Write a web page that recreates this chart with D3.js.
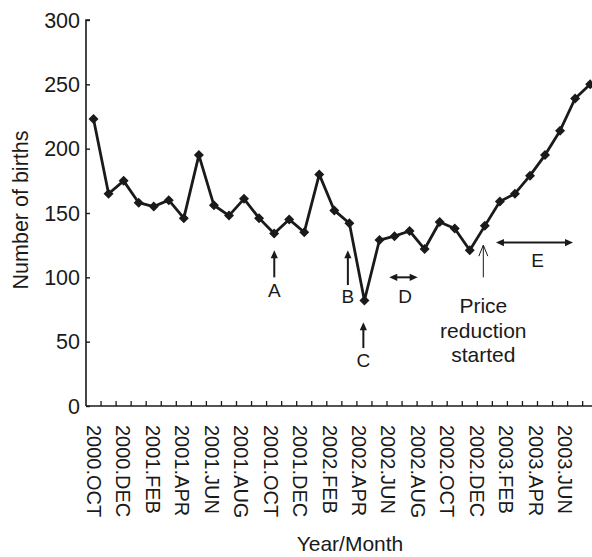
<!DOCTYPE html>
<html>
<head>
<meta charset="utf-8">
<script src="https://cdn.jsdelivr.net/npm/d3@7"></script>
<style>
  body { margin: 0; background: #fff; }
  svg { display: block; }
  text { font-family: "Liberation Sans", Arial, sans-serif; fill: #1a1a1a; }
</style>
</head>
<body>
<svg id="chart" width="592" height="557"></svg>
<script>
// Monthly births, 2000.OCT .. 2003.JUL
const months = [
  "2000.OCT","2000.NOV","2000.DEC",
  "2001.JAN","2001.FEB","2001.MAR","2001.APR","2001.MAY","2001.JUN",
  "2001.JUL","2001.AUG","2001.SEP","2001.OCT","2001.NOV","2001.DEC",
  "2002.JAN","2002.FEB","2002.MAR","2002.APR","2002.MAY","2002.JUN",
  "2002.JUL","2002.AUG","2002.SEP","2002.OCT","2002.NOV","2002.DEC",
  "2003.JAN","2003.FEB","2003.MAR","2003.APR","2003.MAY","2003.JUN","2003.JUL"
];
const births = [
  223, 165, 175,
  158, 155, 160, 146, 195, 156,
  148, 161, 146, 134, 145, 135,
  180, 152, 142, 82, 129, 132,
  136, 122, 143, 138, 121, 140,
  159, 165, 179, 195, 214, 239, 250
];
const yTicks = [0, 50, 100, 150, 200, 250, 300];
// every second month gets a label
const tickLabels = months.filter((m, i) => i % 2 === 0);

// annotations: month index (fractional) and values in births units
const upArrows = [
  { label: "A", at: 12.51, from: 100, to: 121, textAt: 90 },
  { label: "B", at: 17.40, from: 94,  to: 121, textAt: 85 },
  { label: "C", at: 18.43, from: 45,  to: 65,  textAt: 36 }
];
const spanArrows = [
  { label: "D", from: 20.15, to: 22.04, at: 100, textX: 21.2, textAt: 85 },
  { label: "E", from: 27.24, to: 32.36, at: 127, textX: 30.0, textAt: 113.5 }
];
const priceNote = { at: 26.4, from: 100, to: 125, lines: ["Price", "reduction", "started"], textAt: [78.5, 59, 40.4] };

const svg = d3.select("#chart");
const mLeft = 86, step = 15.05, mTop = 20, mBottom = 406;

const x = d3.scaleBand().domain(months).range([mLeft, mLeft + months.length * step]);
const xi = d3.scaleLinear().domain([0, months.length]).range([mLeft, mLeft + months.length * step]);
// category labels are spaced a touch tighter than the points in the original
const xl = d3.scalePoint().domain(tickLabels).range([94, 565]);
const y = d3.scaleLinear().domain([0, 300]).range([mBottom, mTop]);

const ink = "#1a1a1a";

// y axis, ticks inside
const yAxis = svg.append("g").attr("transform", `translate(${mLeft},0)`)
  .call(d3.axisRight(y).tickValues(yTicks).tickSize(4).tickFormat(""));
yAxis.select(".domain").attr("stroke", ink).attr("stroke-width", 1.6).attr("d", `M4,${mTop}H0V${mBottom}`);
yAxis.selectAll(".tick line").attr("stroke", ink).attr("stroke-width", 1.4);

svg.append("g").selectAll("text").data(yTicks).join("text")
  .attr("x", mLeft - 6).attr("y", d => y(d)).attr("dy", "0.36em")
  .attr("text-anchor", "end").attr("font-size", 21.5)
  .text(d => d);

// x axis: ticks at month boundaries, pointing up
const xAxis = svg.append("g").attr("transform", `translate(0,${mBottom})`)
  .call(d3.axisTop(x).tickSize(0).tickFormat(""));
xAxis.select(".domain").attr("stroke", ink).attr("stroke-width", 1.6).attr("d", `M${mLeft},0H${mLeft + months.length * step}`);
svg.append("g").selectAll("line").data(d3.range(1, months.length)).join("line")
  .attr("x1", d => xi(d)).attr("x2", d => xi(d))
  .attr("y1", mBottom).attr("y2", mBottom - 5)
  .attr("stroke", ink).attr("stroke-width", 1.3);

svg.append("g").selectAll("text").data(tickLabels).join("text")
  .attr("transform", d => `translate(${xl(d)},${mBottom + 19}) rotate(90)`)
  .attr("dy", "0.35em").attr("font-size", 20)
  .text(d => d);

// axis titles
svg.append("text")
  .attr("transform", `translate(20,${(mTop + mBottom) / 2 - 3}) rotate(-90)`)
  .attr("text-anchor", "middle").attr("dy", "0.35em").attr("font-size", 21.5)
  .text("Number of births");
svg.append("text")
  .attr("x", 350).attr("y", 551)
  .attr("text-anchor", "middle").attr("font-size", 21)
  .text("Year/Month");

// series
const cx = (d, i) => x(months[i]) + x.bandwidth() / 2;
svg.append("path")
  .datum(births)
  .attr("fill", "none").attr("stroke", ink).attr("stroke-width", 2.8).attr("stroke-linejoin", "round")
  .attr("d", d3.line().x(cx).y(d => y(d)));

svg.append("g").selectAll("path").data(births).join("path")
  .attr("transform", (d, i) => `translate(${cx(d, i)},${y(d)})`)
  .attr("d", "M0,-5L5,0L0,5L-5,0Z")
  .attr("fill", ink);

// annotation helpers
function head(px, py, dir) {
  // filled triangular head pointing in dir (angle in degrees)
  return svg.append("path")
    .attr("d", "M0,0L-8,-3.6L-8,3.6Z")
    .attr("transform", `translate(${px},${py}) rotate(${dir})`)
    .attr("fill", ink);
}

const ann = svg.append("g");
upArrows.forEach(a => {
  const px = xi(a.at);
  ann.append("line").attr("x1", px).attr("x2", px)
    .attr("y1", y(a.from)).attr("y2", y(a.to) + 6)
    .attr("stroke", ink).attr("stroke-width", 2);
  head(px, y(a.to), -90);
  ann.append("text").attr("x", px).attr("y", y(a.textAt)).attr("dy", "0.36em")
    .attr("text-anchor", "middle").attr("font-size", 19).text(a.label);
});

spanArrows.forEach(s => {
  const x1 = xi(s.from), x2 = xi(s.to), py = y(s.at);
  ann.append("line").attr("x1", x1 + 6).attr("x2", x2 - 6)
    .attr("y1", py).attr("y2", py)
    .attr("stroke", ink).attr("stroke-width", 2);
  head(x1, py, 180);
  head(x2, py, 0);
  ann.append("text").attr("x", xi(s.textX)).attr("y", y(s.textAt)).attr("dy", "0.36em")
    .attr("text-anchor", "middle").attr("font-size", 19).text(s.label);
});

// thin open arrow for price reduction
const pxp = xi(priceNote.at);
ann.append("line").attr("x1", pxp).attr("x2", pxp)
  .attr("y1", y(priceNote.from)).attr("y2", y(priceNote.to))
  .attr("stroke", ink).attr("stroke-width", 1);
ann.append("path")
  .attr("d", `M${pxp - 4.5},${y(priceNote.to) + 11}L${pxp},${y(priceNote.to)}L${pxp + 4.5},${y(priceNote.to) + 11}`)
  .attr("fill", "none").attr("stroke", ink).attr("stroke-width", 1);
priceNote.lines.forEach((t, i) => {
  ann.append("text").attr("x", pxp).attr("y", y(priceNote.textAt[i])).attr("dy", "0.36em")
    .attr("text-anchor", "middle").attr("font-size", 21).text(t);
});
</script>
</body>
</html>
